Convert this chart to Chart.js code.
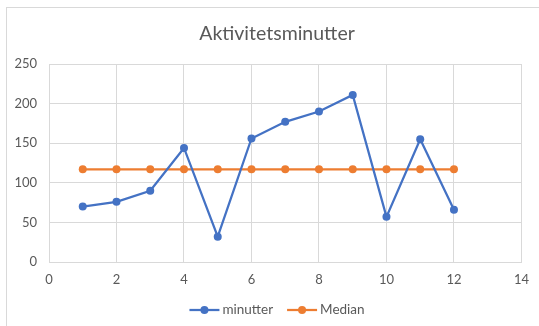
<!DOCTYPE html>
<html>
<head>
<meta charset="utf-8">
<script src="https://cdn.jsdelivr.net/npm/chart.js@4/dist/chart.umd.min.js"></script>
<style>
  html, body { margin: 0; padding: 0; background: #ffffff; overflow: hidden; }
  #wrap { position: relative; width: 539px; height: 326px; }
  #frame { position: absolute; left: 6px; top: 7px; width: 600px; height: 400px;
           border: 1px solid #d9d9d9; box-sizing: border-box; }
  #c { position: absolute; left: 0; top: 0; }
</style>
</head>
<body>
<div id="wrap">
  <div id="frame"></div>
  <canvas id="c" width="539" height="326"></canvas>
</div>
<script>
// Days and activity minutes per day
const days = [1, 2, 3, 4, 5, 6, 7, 8, 9, 10, 11, 12];
const minutter = [70, 76, 90, 144, 32, 156, 177, 190, 211, 57, 155, 66];
const median = [117, 117, 117, 117, 117, 117, 117, 117, 117, 117, 117, 117];
const seriesNames = ['minutter', 'Median'];
const chartTitle = 'Aktivitetsminutter';

const BLUE = '#4472C4';
const ORANGE = '#ED7D31';
const TEXT = '#595959';
const GRID = '#d9d9d9';
const FONT = 'Lato, "Open Sans", sans-serif';
const FRAME_CENTER = 277;

function toPoints(xs, ys) {
  return xs.map((x, i) => ({ x: x, y: ys[i] }));
}

// Title and legend, both centred over the whole chart frame
const frameDecor = {
  id: 'frameDecor',
  afterDraw(chart) {
    const ctx = chart.ctx;
    ctx.save();
    ctx.fillStyle = TEXT;
    ctx.textBaseline = 'middle';

    ctx.font = '19.5px ' + FONT;
    ctx.textAlign = 'center';
    ctx.fillText(chartTitle, FRAME_CENTER, 34);

    // legend: line + dot marker, then label
    ctx.font = '13.5px ' + FONT;
    ctx.textAlign = 'left';
    const lineW = 30, gapText = 3, gapItem = 14, y = 310;
    const sets = chart.data.datasets;
    const widths = sets.map(d => lineW + gapText + ctx.measureText(d.label).width);
    const total = widths.reduce((a, b) => a + b, 0) + gapItem * (sets.length - 1);
    let x = FRAME_CENTER - total / 2;
    sets.forEach((d, i) => {
      ctx.strokeStyle = d.borderColor;
      ctx.lineWidth = 2.25;
      ctx.beginPath(); ctx.moveTo(x, y); ctx.lineTo(x + lineW, y); ctx.stroke();
      ctx.fillStyle = d.backgroundColor;
      ctx.beginPath(); ctx.arc(x + lineW / 2, y, 4, 0, Math.PI * 2); ctx.fill();
      ctx.fillStyle = TEXT;
      ctx.fillText(d.label, x + lineW + gapText, y);
      x += widths[i] + gapItem;
    });
    ctx.restore();
  }
};

new Chart(document.getElementById('c'), {
  type: 'scatter',
  data: {
    datasets: [
      {
        label: seriesNames[0],
        data: toPoints(days, minutter),
        showLine: true,
        borderColor: BLUE,
        backgroundColor: BLUE,
        borderWidth: 2.25,
        pointRadius: 4,
        pointHoverRadius: 4,
        pointBorderWidth: 0
      },
      {
        label: seriesNames[1],
        data: toPoints(days, median),
        showLine: true,
        borderColor: ORANGE,
        backgroundColor: ORANGE,
        borderWidth: 2.25,
        pointRadius: 4,
        pointHoverRadius: 4,
        pointBorderWidth: 0
      }
    ]
  },
  options: {
    responsive: false,
    animation: false,
    layout: { padding: { left: 0, right: 17, top: 64, bottom: 34 } },
    scales: {
      x: {
        type: 'linear',
        min: 0, max: 14,
        ticks: { stepSize: 2, color: TEXT, font: { family: FONT, size: 13 }, padding: 10 },
        grid: { color: GRID, lineWidth: 1, drawTicks: false },
        border: { color: GRID, width: 1 },
        afterFit: (s) => { s.height = 30; }
      },
      y: {
        min: 0, max: 250,
        ticks: { stepSize: 50, color: TEXT, font: { family: FONT, size: 13 }, padding: 12 },
        grid: { color: GRID, lineWidth: 1, drawTicks: false },
        border: { display: false },
        afterFit: (s) => { s.width = 49; }
      }
    },
    plugins: {
      title: { display: false },
      legend: { display: false },
      tooltip: { enabled: false }
    }
  },
  plugins: [frameDecor]
});
</script>
</body>
</html>
